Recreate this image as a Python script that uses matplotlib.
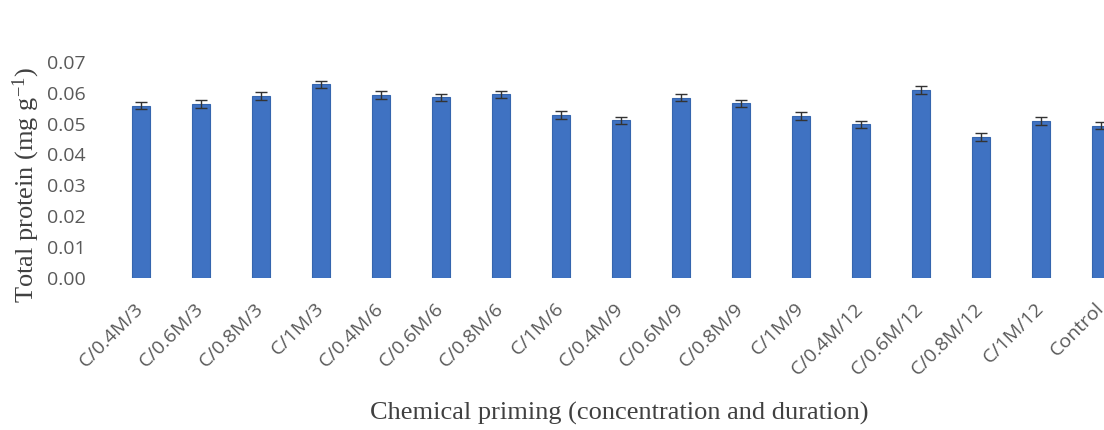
import matplotlib
matplotlib.use("Agg")
import matplotlib.pyplot as plt

plt.rcParams["mathtext.fontset"] = "custom"
plt.rcParams["mathtext.rm"] = "Liberation Serif"
plt.rcParams["mathtext.it"] = "Liberation Serif:italic"

categories = ["C/0.4M/3", "C/0.6M/3", "C/0.8M/3", "C/1M/3", "C/0.4M/6", "C/0.6M/6",
              "C/0.8M/6", "C/1M/6", "C/0.4M/9", "C/0.6M/9", "C/0.8M/9", "C/1M/9",
              "C/0.4M/12", "C/0.6M/12", "C/0.8M/12", "C/1M/12", "Control"]
values = [0.0558, 0.0563, 0.0589, 0.0627, 0.0592, 0.0585, 0.0594, 0.0527, 0.0510,
          0.0584, 0.0565, 0.0524, 0.0497, 0.0608, 0.0456, 0.0508, 0.0493]
errors = [0.0012, 0.0012, 0.0012, 0.0012, 0.0012, 0.0012, 0.0012, 0.0012, 0.0012,
          0.0012, 0.0012, 0.0012, 0.0012, 0.0012, 0.0012, 0.0012, 0.0012]
yticks = [0.00, 0.01, 0.02, 0.03, 0.04, 0.05, 0.06, 0.07]

fig = plt.figure(figsize=(11.04, 4.30), dpi=100)
ax = fig.add_axes([0.1005, 0.3535, 0.924, 0.503])

x = list(range(len(categories)))
ax.bar(x, values, width=0.3, color="#3F72C2", edgecolor="#3565AE", linewidth=0.8,
       yerr=errors, capsize=4.5,
       error_kw=dict(ecolor="#333333", elinewidth=1.0, capthick=1.0))

ax.set_xlim(-0.5, len(categories) - 0.5)
ax.set_ylim(0, 0.07)
ax.set_yticks(yticks)
ax.set_yticklabels([f"{v:.2f}" for v in yticks], fontfamily="Open Sans",
                   fontsize=14, color="#595959")
ax.set_xticks(x)
ax.set_xticklabels(categories, rotation=45, ha="right", va="center",
                   rotation_mode="anchor",
                   fontfamily="Open Sans", fontsize=14, color="#595959")
ax.tick_params(axis="both", length=0)
ax.tick_params(axis="y", pad=18)
ax.tick_params(axis="x", pad=20)
for s in ax.spines.values():
    s.set_visible(False)

fig.text(26 / 1104, 1 - 185 / 430, r"Total protein (mg g$^{-1}$)",
         fontfamily="Liberation Serif", fontsize=19, color="#404040",
         rotation=90, ha="center", va="center")
fig.text(619 / 1104, 1 - 413 / 430, "Chemical priming (concentration and duration)",
         fontfamily="Liberation Serif", fontsize=19, color="#404040",
         ha="center", va="center")

fig.savefig("out.png", dpi=100)
